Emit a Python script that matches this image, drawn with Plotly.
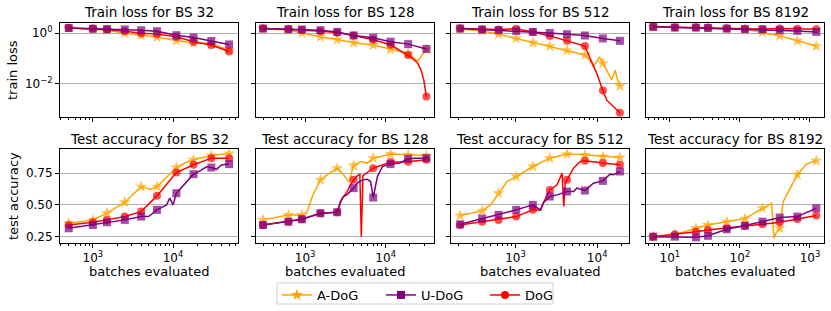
import math
import plotly.graph_objects as go
from plotly.subplots import make_subplots

W, H = 831, 311
ORANGE, PURPLE, RED = "#FFA500", "#800080", "#FF0000"
FONT = "DejaVu Sans"

# ---------------- BS 32 ----------------
mk32 = [500, 1000, 1500, 2500, 4000, 6300, 11000, 18000, 30000, 50000]
loss32_adog_x = mk32
loss32_adog_y = [1.6, 1.45, 1.3, 1.0, 0.83, 0.7, 0.51, 0.41, 0.38, 0.22]
loss32_udog_x = mk32
loss32_udog_y = [1.6, 1.5, 1.45, 1.4, 1.3, 1.2, 0.83, 0.67, 0.49, 0.36]
loss32_dog_x = mk32
loss32_dog_y = [1.6, 1.5, 1.4, 1.2, 1.0, 0.93, 0.72, 0.46, 0.34, 0.19]

acc32_adog_x = [500, 1000, 1500, 2500, 4000, 5200, 6300, 11000, 14000, 18000, 30000, 50000]
acc32_adog_y = [0.356, 0.382, 0.435, 0.521, 0.644, 0.622, 0.644, 0.794, 0.83, 0.855, 0.889, 0.905]
acc32_udog_x = [500, 1000, 1500, 2500, 4000, 5000, 6300, 8300, 9100, 10000, 11000, 18000, 22000, 26000, 30000, 35000, 40000, 50000]
acc32_udog_y = [0.316, 0.342, 0.363, 0.382, 0.408, 0.41, 0.461, 0.50, 0.553, 0.50, 0.592, 0.742, 0.77, 0.80, 0.794, 0.78, 0.815, 0.821]
acc32_dog_x = mk32
acc32_dog_y = [0.342, 0.363, 0.382, 0.408, 0.447, 0.571, 0.755, 0.816, 0.868, 0.868]

# ---------------- BS 128 ----------------
mk128 = [300, 620, 910, 1550, 2500, 4000, 7000, 11500, 19000, 32000]
loss128_adog_x = [300, 620, 910, 1550, 2500, 4000, 7000, 11500, 19000, 25000, 32000]
loss128_adog_y = [1.5, 1.32, 1.02, 0.71, 0.56, 0.42, 0.34, 0.23, 0.16, 0.08, 0.23]
loss128_udog_x = mk128
loss128_udog_y = [1.52, 1.44, 1.4, 1.31, 1.12, 0.81, 0.66, 0.46, 0.37, 0.24]
loss128_dog_x = [300, 620, 910, 1550, 2500, 4000, 7000, 11500, 19000, 21500, 25000, 27500, 29700, 32000]
loss128_dog_y = [1.52, 1.44, 1.32, 1.2, 1.07, 0.8, 0.55, 0.35, 0.138, 0.102, 0.065, 0.035, 0.0145, 0.0032]

acc128_adog_x = [300, 620, 910, 1050, 1250, 1550, 1870, 2500, 3000, 3500, 4000, 4870, 5900, 7000, 8700, 11500, 19000, 32000]
acc128_adog_y = [0.382, 0.421, 0.421, 0.44, 0.58, 0.697, 0.737, 0.789, 0.737, 0.679, 0.810, 0.842, 0.829, 0.868, 0.881, 0.900, 0.894, 0.889]
acc128_udog_x = [300, 620, 910, 1550, 2500, 2740, 3000, 3300, 3650, 4000, 4450, 5150, 5900, 6500, 7000, 7900, 9100, 11500, 15000, 19000, 24000, 32000]
acc128_udog_y = [0.342, 0.368, 0.387, 0.434, 0.442, 0.526, 0.566, 0.579, 0.605, 0.632, 0.671, 0.697, 0.702, 0.684, 0.558, 0.723, 0.802, 0.821, 0.83, 0.863, 0.868, 0.868]
acc128_dog_x = [300, 620, 910, 1550, 2500, 2870, 3300, 3650, 4000, 4450, 4780, 4980, 5230, 7000, 11500, 19000, 32000]
acc128_dog_y = [0.342, 0.368, 0.387, 0.434, 0.442, 0.55, 0.60, 0.66, 0.697, 0.73, 0.74, 0.25, 0.73, 0.789, 0.837, 0.84, 0.855]

# ---------------- BS 512 ----------------
mk512 = [210, 390, 620, 1020, 1630, 2630, 4270, 7080, 11750, 19000]
loss512_adog_x = [210, 390, 620, 1020, 1630, 2630, 4270, 7080, 7830, 9000, 10700, 11750, 13800, 15100, 16600, 18200, 19000]
loss512_adog_y = [1.45, 1.23, 0.91, 0.62, 0.42, 0.31, 0.21, 0.138, 0.102, 0.048, 0.117, 0.065, 0.022, 0.0145, 0.035, 0.0107, 0.0083]
loss512_udog_x = mk512
loss512_udog_y = [1.52, 1.4, 1.31, 1.23, 1.12, 1.02, 0.91, 0.81, 0.62, 0.50]
loss512_dog_x = [210, 390, 620, 1020, 1630, 2630, 4270, 7080, 8200, 9900, 11750, 13100, 15800, 19000]
loss512_dog_y = [1.52, 1.4, 1.4, 1.48, 1.12, 0.78, 0.5, 0.31, 0.102, 0.026, 0.0055, 0.0023, 0.0013, 0.00074]

acc512_adog_x = [210, 390, 495, 620, 790, 1020, 1630, 2630, 4270, 7080, 11750, 19000]
acc512_adog_y = [0.416, 0.453, 0.5, 0.592, 0.684, 0.723, 0.802, 0.868, 0.900, 0.894, 0.881, 0.873]
acc512_udog_x = [210, 390, 620, 1020, 1630, 2020, 2210, 2630, 3230, 4270, 5140, 5650, 7080, 9000, 11750, 14400, 15800, 19000]
acc512_udog_y = [0.347, 0.392, 0.421, 0.461, 0.500, 0.461, 0.52, 0.566, 0.579, 0.605, 0.605, 0.632, 0.613, 0.671, 0.689, 0.742, 0.737, 0.763]
acc512_dog_x = [210, 390, 620, 1020, 1630, 2020, 2210, 2630, 3230, 3720, 3900, 4070, 4270, 5140, 6200, 7080, 11750, 19000]
acc512_dog_y = [0.342, 0.368, 0.382, 0.408, 0.461, 0.458, 0.52, 0.618, 0.658, 0.75, 0.487, 0.671, 0.697, 0.789, 0.842, 0.847, 0.829, 0.816]

# ---------------- BS 8192 ----------------
mk8192 = [5.8, 11.8, 23.6, 35, 65, 118, 210, 370, 660, 1230]
loss8192_adog_x = mk8192
loss8192_adog_y = [1.77, 1.67, 1.67, 1.62, 1.52, 1.42, 1.07, 0.78, 0.5, 0.31]
loss8192_udog_x = mk8192
loss8192_udog_y = [1.77, 1.67, 1.67, 1.62, 1.52, 1.44, 1.4, 1.31, 1.23, 1.12]
loss8192_dog_x = mk8192
loss8192_dog_y = [1.77, 1.67, 1.67, 1.62, 1.52, 1.48, 1.45, 1.52, 1.48, 1.41]

acc8192_adog_x = [5.8, 11.8, 23.6, 35, 65, 118, 193, 210, 240, 283, 307, 334, 370, 415, 465, 660, 890, 1230]
acc8192_adog_y = [0.25, 0.266, 0.316, 0.342, 0.368, 0.392, 0.461, 0.474, 0.487, 0.513, 0.237, 0.289, 0.316, 0.526, 0.579, 0.737, 0.821, 0.847]
acc8192_udog_x = mk8192
acc8192_udog_y = [0.25, 0.25, 0.245, 0.257, 0.308, 0.337, 0.368, 0.400, 0.408, 0.474]
acc8192_dog_x = mk8192
acc8192_dog_y = [0.25, 0.268, 0.289, 0.303, 0.316, 0.334, 0.347, 0.363, 0.389, 0.416]

batch_sizes = ["32", "128", "512", "8192"]
markers = [mk32, mk128, mk512, mk8192]
loss_data = [
    [(loss32_adog_x, loss32_adog_y), (loss32_udog_x, loss32_udog_y), (loss32_dog_x, loss32_dog_y)],
    [(loss128_adog_x, loss128_adog_y), (loss128_udog_x, loss128_udog_y), (loss128_dog_x, loss128_dog_y)],
    [(loss512_adog_x, loss512_adog_y), (loss512_udog_x, loss512_udog_y), (loss512_dog_x, loss512_dog_y)],
    [(loss8192_adog_x, loss8192_adog_y), (loss8192_udog_x, loss8192_udog_y), (loss8192_dog_x, loss8192_dog_y)],
]
acc_data = [
    [(acc32_adog_x, acc32_adog_y), (acc32_udog_x, acc32_udog_y), (acc32_dog_x, acc32_dog_y)],
    [(acc128_adog_x, acc128_adog_y), (acc128_udog_x, acc128_udog_y), (acc128_dog_x, acc128_dog_y)],
    [(acc512_adog_x, acc512_adog_y), (acc512_udog_x, acc512_udog_y), (acc512_dog_x, acc512_dog_y)],
    [(acc8192_adog_x, acc8192_adog_y), (acc8192_udog_x, acc8192_udog_y), (acc8192_dog_x, acc8192_dog_y)],
]
series_names = ["A-DoG", "U-DoG", "DoG"]
series_colors = [ORANGE, PURPLE, RED]
series_symbols = ["star", "square", "circle"]
series_sizes = [9, 8, 8]
draw_order = [0, 2, 1]

x_ranges = [[2.59, 4.81], [2.39, 4.60], [2.21, 4.39], [0.66, 3.20]]
x_major = [[1e3, 1e4], [1e3, 1e4], [1e3, 1e4], [1e1, 1e2, 1e3]]

# layout in pixels
col_left = [60, 256, 451, 646]
col_w = 178
row_top = [23, 149]
row_h = 94

fig = make_subplots(rows=2, cols=4)


def minor_vals(lo, hi):
    vals = []
    for d in range(int(lo) - 1, int(hi) + 2):
        for k in range(2, 10):
            v = k * 10 ** d
            if 10 ** lo <= v <= 10 ** hi:
                vals.append(v)
    return vals


for c in range(4):
    for r, data in enumerate([loss_data, acc_data]):
        for s in draw_order:
            xs, ys = data[c][s]
            sizes = [series_sizes[s] if any(abs(x - m) / m < 1e-6 for m in markers[c]) else 0 for x in xs]
            fig.add_trace(go.Scatter(
                x=xs, y=ys, mode="lines+markers",
                line=dict(color=series_colors[s], width=1.5),
                marker=dict(symbol=series_symbols[s], size=sizes, color=series_colors[s], line=dict(width=0)),
                showlegend=False, hoverinfo="skip"), row=r + 1, col=c + 1)

        x0 = col_left[c] / W
        x1 = (col_left[c] + col_w) / W
        y1 = 1 - row_top[r] / H
        y0 = 1 - (row_top[r] + row_h) / H
        fig.update_xaxes(
            type="log", range=x_ranges[c], domain=[x0, x1],
            tickvals=x_major[c],
            ticktext=["10<sup>%d</sup>" % round(math.log10(v)) for v in x_major[c]],
            showticklabels=(r == 1),
            ticks="outside", ticklen=4, tickwidth=1, tickcolor="black",
            minor=dict(tickvals=minor_vals(*x_ranges[c]), ticks="outside", ticklen=2, tickwidth=1,
                       tickcolor="black", showgrid=False),
            showgrid=False, showline=True, mirror=True, linecolor="black", linewidth=1,
            zeroline=False, tickfont=dict(family=FONT, size=12, color="black"),
            row=r + 1, col=c + 1)
        if r == 0:
            fig.update_yaxes(
                type="log", range=[-3.3, 0.4], tickvals=[1e-2, 1],
                ticktext=["10<sup>\u22122</sup>", "10<sup>0</sup>"],
                row=r + 1, col=c + 1)
        else:
            fig.update_yaxes(
                range=[0.20, 0.94], tickvals=[0.25, 0.50, 0.75],
                ticktext=["0.25", "0.50", "0.75"],
                row=r + 1, col=c + 1)
        fig.update_yaxes(
            domain=[y0, y1], showticklabels=(c == 0),
            ticks="outside", ticklen=4, tickwidth=1, tickcolor="black",
            showgrid=True, gridcolor="#b0b0b0", gridwidth=1,
            showline=True, mirror=True, linecolor="black", linewidth=1, zeroline=False,
            tickfont=dict(family=FONT, size=12, color="black"),
            row=r + 1, col=c + 1)

# legend entries
for s in range(3):
    fig.add_trace(go.Scatter(
        x=[None], y=[None], mode="lines+markers", name=series_names[s],
        line=dict(color=series_colors[s], width=1.5),
        marker=dict(symbol=series_symbols[s], size=series_sizes[s], color=series_colors[s])))

annotations = []
for c in range(4):
    xc = (col_left[c] + col_w / 2) / W
    annotations.append(dict(text="Train loss for BS " + batch_sizes[c], x=xc, y=1 - 12 / H,
                            xref="paper", yref="paper", showarrow=False, xanchor="center",
                            font=dict(family=FONT, size=13.5, color="black"), yanchor="middle"))
    annotations.append(dict(text="Test accuracy for BS " + batch_sizes[c], x=xc, y=1 - 139 / H,
                            xref="paper", yref="paper", showarrow=False, xanchor="center",
                            font=dict(family=FONT, size=13.5, color="black"), yanchor="middle"))
    annotations.append(dict(text="batches evaluated", x=xc, y=1 - 271 / H,
                            xref="paper", yref="paper", showarrow=False, xanchor="center",
                            font=dict(family=FONT, size=13, color="black"), yanchor="middle"))
annotations.append(dict(text="train loss", x=13 / W, y=1 - 70 / H, textangle=-90,
                        xref="paper", yref="paper", showarrow=False,
                        font=dict(family=FONT, size=13, color="black"),
                        xanchor="center", yanchor="middle"))
annotations.append(dict(text="test accuracy", x=13 / W, y=1 - 196 / H, textangle=-90,
                        xref="paper", yref="paper", showarrow=False,
                        font=dict(family=FONT, size=13, color="black"),
                        xanchor="center", yanchor="middle"))

# legend frame (matplotlib-style box)
legend_box = dict(type="rect", xref="paper", yref="paper",
                  x0=277 / W, x1=553 / W, y0=1 - 304 / H, y1=1 - 283 / H,
                  line=dict(color="#d0d0d0", width=1), fillcolor="white", layer="below")

fig.update_layout(
    width=W, height=H, margin=dict(l=0, r=0, t=0, b=0),
    paper_bgcolor="white", plot_bgcolor="white",
    font=dict(family=FONT, size=12, color="black"),
    annotations=annotations,
    shapes=[legend_box],
    hovermode=False,
    legend=dict(orientation="h", x=277 / W, xanchor="left", y=1 - 280 / H, yanchor="top",
                borderwidth=0, bgcolor="rgba(0,0,0,0)",
                font=dict(family=FONT, size=13, color="black"),
                entrywidth=59, tracegroupgap=0, itemwidth=30),
)

fig.write_html("out.html", config={"displayModeBar": False, "staticPlot": True},
               post_script="document.body.style.margin='0';document.body.style.overflow='hidden';")
